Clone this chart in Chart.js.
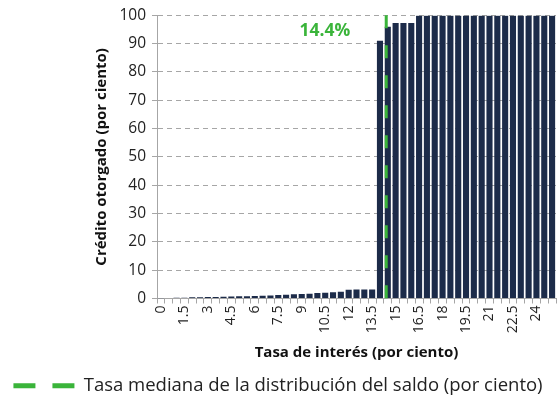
<!DOCTYPE html>
<html>
<head>
<meta charset="utf-8">
<script src="https://cdn.jsdelivr.net/npm/chart.js@4"></script>
<style>
  html, body { margin: 0; padding: 0; background: #fff; }
  #wrap { width: 557px; height: 405px; }
</style>
</head>
<body>
<div id="wrap"><canvas id="creditChart" width="557" height="405"></canvas></div>
<script>
// interest rate buckets, percent
const rates = [
  "0", "0.5", "1", "1.5", "2", "2.5", "3", "3.5", "4", "4.5",
  "5", "5.5", "6", "6.5", "7", "7.5", "8", "8.5", "9", "9.5",
  "10", "10.5", "11", "11.5", "12", "12.5", "13", "13.5", "14", "14.5",
  "15", "15.5", "16", "16.5", "17", "17.5", "18", "18.5", "19", "19.5",
  "20", "20.5", "21", "21.5", "22", "22.5", "23", "23.5", "24", "24.5", "25"
];
// cumulative share of credit granted, percent
const credit = [
  0.1, 0.2, 0.3, 0.3, 0.4, 0.4, 0.5, 0.5, 0.6, 0.7,
  0.8, 0.8, 0.9, 1.0, 1.1, 1.2, 1.3, 1.5, 1.6, 1.7,
  1.9, 2.0, 2.2, 2.4, 3.1, 3.2, 3.2, 3.2, 91, 96,
  97.3, 97.3, 97.3, 99.8, 99.8, 99.8, 99.8, 99.8, 99.8, 99.8,
  99.8, 99.8, 99.8, 99.8, 99.8, 99.8, 99.8, 99.8, 99.8, 99.8, 99.8
];
const yTicks = [0, 10, 20, 30, 40, 50, 60, 70, 80, 90, 100];
const medianRate = 14.4;
const medianLabel = "14.4%";
const medianLegend = "Tasa mediana de la distribución del saldo (por ciento)";

const navy = "#1c2b49";
const green = "#3ab43a";
const gridGrey = "#a6a6a6";
const fontFamily = "'Open Sans', sans-serif";

// vertical dashed line at the median rate plus its label
const medianLine = {
  id: "medianLine",
  afterDatasetsDraw(chart) {
    const { ctx, chartArea, scales } = chart;
    const step = Number(rates[1]) - Number(rates[0]);
    const x = scales.x.getPixelForValue((medianRate - Number(rates[0])) / step);
    ctx.save();
    ctx.strokeStyle = green;
    ctx.lineWidth = 3;
    ctx.setLineDash([13, 17]);
    ctx.beginPath();
    ctx.moveTo(x, chartArea.top);
    ctx.lineTo(x, chartArea.bottom);
    ctx.stroke();
    ctx.setLineDash([]);
    ctx.fillStyle = green;
    ctx.font = "bold 17.5px " + fontFamily;
    ctx.textAlign = "right";
    ctx.textBaseline = "middle";
    ctx.fillText(medianLabel, x - 36, chartArea.top + 16);
    ctx.restore();
  }
};

new Chart(document.getElementById("creditChart"), {
  type: "bar",
  data: {
    labels: rates,
    datasets: [
      {
        data: credit,
        backgroundColor: navy,
        barPercentage: 0.78,
        categoryPercentage: 1.0
      }
    ]
  },
  options: {
    responsive: false,
    animation: false,
    layout: { padding: { left: 0, top: 15, right: 1, bottom: 0 } },
    plugins: {
      tooltip: { enabled: false },
      legend: {
        display: true,
        position: "bottom",
        labels: {
          usePointStyle: true,
          pointStyleWidth: 61,
          boxHeight: 10,
          padding: 8,
          color: "#222",
          font: { family: fontFamily, size: 18.5 },
          generateLabels: () => [{
            text: medianLegend,
            pointStyle: "line",
            strokeStyle: green,
            fillStyle: green,
            lineWidth: 5,
            lineDash: [22, 17],
            lineCap: "butt",
            fontColor: "#222",
            hidden: false
          }]
        }
      }
    },
    scales: {
      x: {
        afterFit: (scale) => {
          scale.height = 70;
          scale.paddingLeft = 0;
          scale.paddingRight = 0;
        },
        grid: {
          offset: true,
          drawOnChartArea: false,
          drawTicks: true,
          tickLength: 5,
          color: gridGrey
        },
        border: { color: gridGrey },
        ticks: {
          autoSkip: false,
          maxRotation: 90,
          minRotation: 90,
          padding: 2,
          color: "#222",
          font: { family: fontFamily, size: 14 },
          callback: (v, i) => (i % 3 === 0 ? rates[i] : "")
        },
        title: {
          display: true,
          text: "Tasa de interés (por ciento)",
          color: "#111",
          font: { family: fontFamily, size: 15, weight: "bold" },
          padding: { top: 0, bottom: 7 }
        }
      },
      y: {
        min: 0,
        max: 100,
        afterFit: (scale) => { scale.width = 157; },
        afterBuildTicks: (scale) => { scale.ticks = yTicks.map((v) => ({ value: v })); },
        grid: {
          color: gridGrey,
          tickLength: 5,
          tickBorderDash: [],
          tickColor: gridGrey
        },
        border: { color: gridGrey, dash: [5, 4] },
        ticks: {
          padding: 6,
          color: "#222",
          font: { family: fontFamily, size: 15.5 }
        },
        title: {
          display: true,
          text: "Crédito otorgado (por ciento)",
          color: "#111",
          font: { family: fontFamily, size: 15, weight: "bold" },
          padding: { top: 93, bottom: 0 }
        }
      }
    }
  },
  plugins: [medianLine]
});
</script>
</body>
</html>
